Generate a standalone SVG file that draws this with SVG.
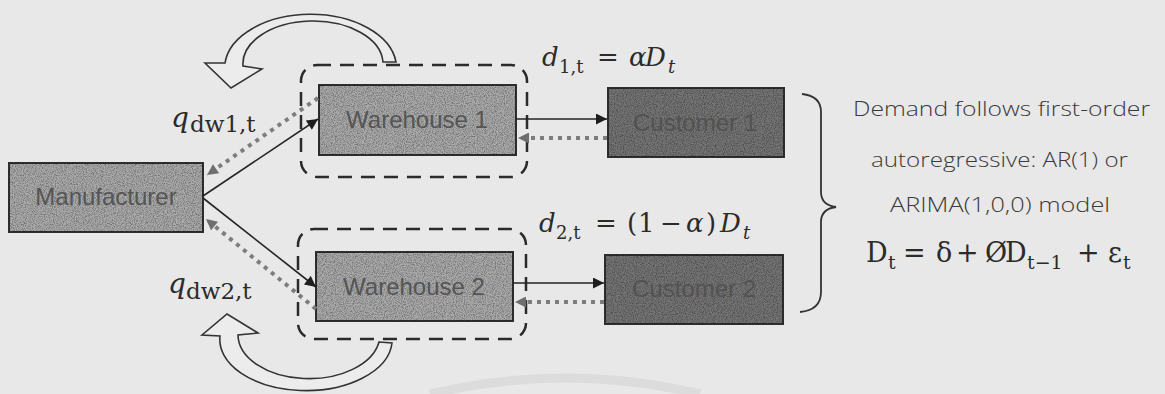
<svg xmlns="http://www.w3.org/2000/svg" width="1165" height="394" viewBox="0 0 1165 394">
<style>
.box{stroke:#2e2e2e;stroke-width:2}
.light{fill:#ababab}
.dark{fill:#757575}
.lbl{font-family:"Liberation Sans",Arial,sans-serif;font-size:24px;text-anchor:middle}
.lt{fill:#555555}
.dt{fill:#525252}
.grp{fill:none;stroke:#2a2a2a;stroke-width:2.5;stroke-dasharray:14 9}
.solid{fill:none;stroke:#252525;stroke-width:1.6}
.dots{fill:none;stroke:#7d7d7d;stroke-width:4;stroke-dasharray:4 5}
.math{font-family:"DejaVu Serif","Liberation Serif",serif;fill:#2b2b2b}
.it{font-style:italic}
.note{font-family:"Open Sans","DejaVu Sans",sans-serif;font-weight:300;font-size:20px;fill:#3a3a3a}
.rot{fill:#ececec;stroke:#333;stroke-width:1.6;stroke-linejoin:miter}
</style>
<defs>
<filter id="grain" x="0" y="0" width="100%" height="100%">
<feTurbulence type="fractalNoise" baseFrequency="0.9" numOctaves="2" seed="3" result="n"/>
<feColorMatrix in="n" type="matrix" values="0 0 0 0 0  0 0 0 0 0  0 0 0 0 0  0.8 0 0 0 -0.3" result="a"/>
<feComposite in="a" in2="SourceGraphic" operator="in"/>
</filter>
<marker id="ah" viewBox="0 0 10 10" refX="10" refY="5" markerUnits="userSpaceOnUse" markerWidth="13" markerHeight="11" orient="auto">
<path d="M0,0 L10,5 L0,10 z" fill="#1e1e1e"/>
</marker>
<marker id="ahg" viewBox="0 0 10 10" refX="10" refY="5" markerUnits="userSpaceOnUse" markerWidth="13" markerHeight="11" orient="auto">
<path d="M0,0 L10,5 L0,10 z" fill="#6e6e6e"/>
</marker>
</defs>
<rect x="0" y="0" width="1165" height="394" fill="#e8e8e8"/>
<path d="M430 394 Q565 362 700 394" fill="none" stroke="#dcdcdc" stroke-width="9"/>

<g id="group1"><rect class="grp" x="301" y="65" width="226" height="112" rx="16"/></g>
<g id="group2"><rect class="grp" x="298" y="229" width="228" height="110" rx="16"/></g>

<g id="manufacturer">
<rect class="box light" x="9" y="163" width="194" height="69"/>
<rect x="9" y="163" width="194" height="69" fill="#000" filter="url(#grain)"/>
<text class="lbl lt" x="106" y="205">Manufacturer</text>
</g>
<g id="warehouse1">
<rect class="box light" x="319" y="85" width="197" height="70"/>
<rect x="319" y="85" width="197" height="70" fill="#000" filter="url(#grain)"/>
<text class="lbl lt" x="417" y="128">Warehouse 1</text>
</g>
<g id="warehouse2">
<rect class="box light" x="316" y="252" width="197" height="69"/>
<rect x="316" y="252" width="197" height="69" fill="#000" filter="url(#grain)"/>
<text class="lbl lt" x="414" y="295">Warehouse 2</text>
</g>
<g id="customer1">
<rect class="box dark" x="608" y="88" width="176" height="69"/>
<rect x="608" y="88" width="176" height="69" fill="#000" filter="url(#grain)"/>
<text class="lbl dt" x="695" y="131">Customer 1</text>
</g>
<g id="customer2">
<rect class="box dark" x="605" y="255" width="178" height="69"/>
<rect x="605" y="255" width="178" height="69" fill="#000" filter="url(#grain)"/>
<text class="lbl dt" x="694" y="297">Customer 2</text>
</g>

<g id="connectors">
<line class="solid" x1="203" y1="196" x2="318" y2="119" marker-end="url(#ah)"/>
<line class="solid" x1="203" y1="198" x2="316" y2="287" marker-end="url(#ah)"/>
<line class="dots" x1="318" y1="98" x2="207" y2="175" marker-end="url(#ahg)"/>
<line class="dots" x1="316" y1="309" x2="206" y2="219" marker-end="url(#ahg)"/>
<line class="solid" x1="516" y1="119" x2="607" y2="119" marker-end="url(#ah)"/>
<line class="dots" x1="607" y1="138" x2="518" y2="138" marker-end="url(#ahg)"/>
<line class="solid" x1="513" y1="283" x2="604" y2="283" marker-end="url(#ah)"/>
<line class="dots" x1="604" y1="302" x2="515" y2="302" marker-end="url(#ahg)"/>
</g>

<g id="loop1">
<path class="rot" d="M396 62 A86 54 0 0 0 225 63 L205 63 L231 88 L262 69 L243 66 A70 43 0 0 1 383 62 Z"/>
</g>
<g id="loop2">
<path class="rot" d="M392 343 A86 51 0 0 1 220 336 L202 335 L227 314 L258 333 L238 335 A71 44 0 0 0 379 342 Z"/>
</g>

<g id="labels">
<text class="math it" x="171" y="127" font-size="28">q</text>
<text class="math" x="190" y="132" font-size="23">dw1,t</text>
<text class="math it" x="168" y="293" font-size="28">q</text>
<text class="math" x="186" y="299" font-size="23">dw2,t</text>

<text class="math" font-size="26" y="66"><tspan class="it" x="542">d</tspan><tspan x="597">=</tspan><tspan class="it" x="629">α</tspan><tspan class="it" x="645">D</tspan></text>
<text class="math" font-size="18" y="73"><tspan x="559">1,t</tspan><tspan class="it" x="668">t</tspan></text>

<text class="math" font-size="26" y="232"><tspan class="it" x="539">d</tspan><tspan x="595">=</tspan><tspan x="627">(</tspan><tspan x="638">1</tspan><tspan x="660">−</tspan><tspan class="it" x="686">α</tspan><tspan x="706">)</tspan><tspan class="it" x="720">D</tspan></text>
<text class="math" font-size="18" y="239"><tspan x="556">2,t</tspan><tspan class="it" x="743">t</tspan></text>
</g>

<g id="note">
<path d="M802 94 Q821 96 821 112 L821 192 Q821 205 836 207 Q821 209 821 222 L821 292 Q821 310 800 312" fill="none" stroke="#333" stroke-width="1.8"/>
<text class="note" x="853" y="116" textLength="297" lengthAdjust="spacingAndGlyphs">Demand follows first-order</text>
<text class="note" x="871" y="167" textLength="257" lengthAdjust="spacingAndGlyphs">autoregressive: AR(1) or</text>
<text class="note" x="890" y="212" textLength="220" lengthAdjust="spacingAndGlyphs">ARIMA(1,0,0) model</text>
<text class="math" font-size="27" y="262"><tspan x="866">D</tspan><tspan x="903">=</tspan><tspan x="936">δ</tspan><tspan x="956">+</tspan><tspan x="985">Ø</tspan><tspan x="1005">D</tspan><tspan x="1077">+</tspan><tspan x="1108">ε</tspan></text>
<text class="math" font-size="19" y="269"><tspan x="1027">t−1</tspan><tspan x="888">t</tspan><tspan x="1123">t</tspan></text>
</g>
</svg>
